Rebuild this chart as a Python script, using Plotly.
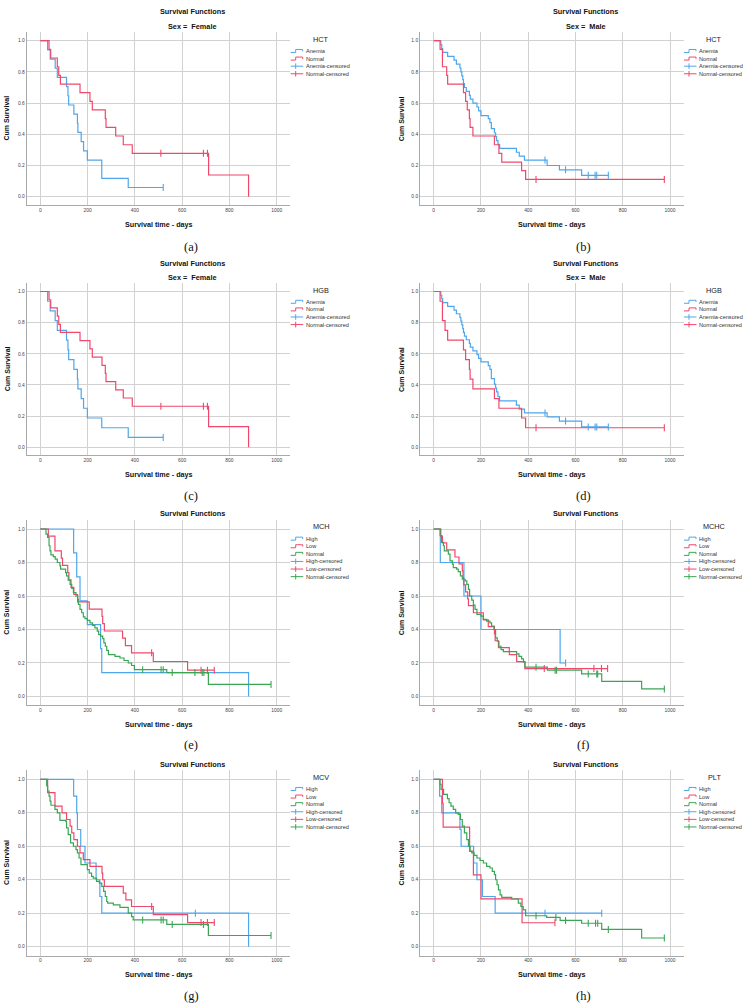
import plotly.graph_objects as go

W, H = 750, 1007
BLUE = "#4EA7EC"
RED = "#F0486C"
GREEN = "#3AA655"
FONT = "Liberation Sans"

x_ticks = [0, 200, 400, 600, 800, 1000]
y_ticks = [0.0, 0.2, 0.4, 0.6, 0.8, 1.0]

# ---------- (a) HCT, Female ----------
A_anemia_t = [0, 31, 42, 63, 72, 111, 117, 120, 142, 157, 159, 173, 183, 199, 260, 372, 520]
A_anemia_s = [1.0, 0.941, 0.882, 0.824, 0.765, 0.706, 0.647, 0.588, 0.529, 0.471, 0.412, 0.353, 0.294, 0.235, 0.118, 0.059, 0.059]
A_anemia_ct = [520]
A_anemia_cs = [0.059]
A_normal_t = [0, 37, 44, 72, 78, 85, 168, 210, 220, 275, 278, 319, 351, 389, 712, 881]
A_normal_s = [1.0, 0.944, 0.889, 0.833, 0.778, 0.722, 0.667, 0.611, 0.556, 0.5, 0.444, 0.389, 0.333, 0.278, 0.139, 0.0]
A_normal_ct = [510, 690, 707]
A_normal_cs = [0.278, 0.278, 0.278]

# ---------- (b) HCT, Male ----------
B_anemia_t = [0, 30, 34, 38, 59, 86, 96, 111, 115, 119, 123, 126, 130, 138, 151, 155, 166, 183, 190, 200,
              231, 238, 244, 257, 262, 266, 272, 279, 350, 362, 384, 480, 532, 626, 739]
B_anemia_s = [1.0, 0.975, 0.95, 0.925, 0.9, 0.875, 0.85, 0.825, 0.8, 0.775, 0.75, 0.725, 0.7, 0.675, 0.65, 0.625, 0.6, 0.575, 0.55, 0.52,
              0.5, 0.475, 0.437, 0.41, 0.385, 0.36, 0.335, 0.31, 0.285, 0.26, 0.235, 0.2, 0.172, 0.137, 0.137]
B_anemia_ct = [471, 558, 654, 683, 690, 739]
B_anemia_cs = [0.235, 0.172, 0.137, 0.137, 0.137, 0.137]
B_normal_t = [0, 27, 37, 55, 59, 126, 135, 142, 151, 154, 166, 257, 276, 288, 372, 389, 976]
B_normal_s = [1.0, 0.944, 0.833, 0.778, 0.722, 0.667, 0.611, 0.556, 0.5, 0.444, 0.389, 0.333, 0.278, 0.222, 0.167, 0.111, 0.111]
B_normal_ct = [433, 976]
B_normal_cs = [0.111, 0.111]

# ---------- (c) HGB, Female ----------
C_anemia_t = [0, 31, 42, 63, 72, 111, 117, 120, 142, 157, 159, 173, 183, 199, 260, 372, 520]
C_anemia_s = [1.0, 0.9375, 0.875, 0.8125, 0.75, 0.6875, 0.625, 0.5625, 0.5, 0.4375, 0.375, 0.3125, 0.25, 0.1875, 0.125, 0.0625, 0.0625]
C_anemia_ct = [520]
C_anemia_cs = [0.0625]
C_normal_t = [0, 37, 44, 72, 78, 85, 168, 210, 220, 261, 275, 278, 319, 351, 389, 712, 881]
C_normal_s = [1.0, 0.947, 0.895, 0.842, 0.789, 0.737, 0.684, 0.632, 0.579, 0.526, 0.474, 0.421, 0.368, 0.316, 0.263, 0.132, 0.0]
C_normal_ct = [510, 690, 707]
C_normal_cs = [0.263, 0.263, 0.263]

# ---------- (d) HGB, Male ----------
D_anemia_t = [0, 30, 34, 38, 59, 86, 96, 111, 115, 119, 123, 126, 130, 138, 151, 155, 166, 183, 190, 200,
              231, 238, 244, 257, 262, 266, 272, 279, 350, 362, 384, 480, 532, 626, 739]
D_anemia_s = [1.0, 0.976, 0.952, 0.929, 0.905, 0.881, 0.857, 0.833, 0.81, 0.786, 0.762, 0.738, 0.714, 0.69, 0.667, 0.643, 0.619, 0.595, 0.571, 0.548,
              0.524, 0.5, 0.44, 0.405, 0.38, 0.355, 0.325, 0.298, 0.27, 0.245, 0.22, 0.195, 0.168, 0.13, 0.13]
D_anemia_ct = [471, 558, 654, 683, 690, 739]
D_anemia_cs = [0.22, 0.168, 0.13, 0.13, 0.13, 0.13]
D_normal_t = [0, 27, 37, 48, 59, 126, 135, 151, 154, 166, 257, 276, 372, 389, 976]
D_normal_s = [1.0, 0.9375, 0.8125, 0.75, 0.6875, 0.625, 0.5625, 0.5, 0.4375, 0.375, 0.3125, 0.25, 0.1875, 0.125, 0.125]
D_normal_ct = [433, 976]
D_normal_cs = [0.125, 0.125]

# ---------- (e) MCH ----------
E_high_t = [0, 141, 154, 168, 199, 255, 260, 881]
E_high_s = [1.0, 0.857, 0.714, 0.571, 0.429, 0.286, 0.143, 0.0]
E_high_ct = []
E_high_cs = []
E_low_t = [0, 34, 62, 89, 94, 116, 121, 130, 142, 158, 207, 261, 264, 271, 348, 360, 386, 478, 623, 736]
E_low_s = [1.0, 0.957, 0.87, 0.826, 0.783, 0.739, 0.696, 0.652, 0.609, 0.565, 0.522, 0.478, 0.435, 0.391, 0.348, 0.304, 0.261, 0.209, 0.157, 0.157]
E_low_ct = [471, 680, 707, 736]
E_low_cs = [0.261, 0.157, 0.157, 0.157]
E_normal_t = [0, 24, 31, 37, 41, 45, 55, 63, 72, 83, 86, 107, 111, 118, 126, 133, 140, 151, 158, 161,
              168, 175, 182, 189, 199, 210, 221, 231, 241, 247, 255, 264, 269, 275, 281, 288, 316, 337, 354, 372,
              386, 398, 535, 711, 976]
E_normal_s = [1.0, 0.97, 0.95, 0.9, 0.87, 0.845, 0.835, 0.82, 0.8, 0.78, 0.76, 0.74, 0.72, 0.695, 0.67, 0.645, 0.62, 0.6, 0.58, 0.55,
              0.52, 0.5, 0.475, 0.465, 0.455, 0.44, 0.425, 0.41, 0.39, 0.37, 0.36, 0.345, 0.32, 0.3, 0.275, 0.25, 0.24, 0.23, 0.215, 0.2,
              0.185, 0.16, 0.143, 0.072, 0.072]
E_normal_ct = [433, 511, 520, 558, 654, 685, 692, 976]
E_normal_cs = [0.16, 0.16, 0.16, 0.143, 0.143, 0.143, 0.143, 0.072]

# ---------- (f) MCHC ----------
F_high_t = [0, 28, 128, 200, 535, 558]
F_high_s = [1.0, 0.8, 0.6, 0.4, 0.2, 0.2]
F_high_ct = [558]
F_high_cs = [0.2]
F_low_t = [0, 30, 37, 55, 90, 107, 121, 124, 127, 135, 144, 147, 168, 210, 231, 257, 260, 274, 320, 351, 386, 736]
F_low_s = [1.0, 0.958, 0.917, 0.875, 0.833, 0.792, 0.75, 0.708, 0.667, 0.625, 0.583, 0.542, 0.5, 0.458, 0.417, 0.375, 0.333, 0.292, 0.25, 0.208, 0.167, 0.167]
F_low_ct = [468, 678, 710, 736]
F_low_cs = [0.167, 0.167, 0.167, 0.167]
F_normal_t = [0, 27, 33, 41, 45, 62, 69, 79, 83, 97, 104, 113, 121, 133, 140, 147, 152, 161, 168, 175,
              183, 200, 210, 224, 238, 245, 255, 262, 269, 276, 285, 295, 351, 361, 372, 380, 386, 481, 626, 711,
              880, 976]
F_normal_s = [1.0, 0.96, 0.92, 0.9, 0.87, 0.85, 0.81, 0.79, 0.77, 0.76, 0.745, 0.72, 0.7, 0.69, 0.67, 0.64, 0.6, 0.575, 0.545, 0.52,
              0.49, 0.48, 0.46, 0.45, 0.44, 0.42, 0.4, 0.35, 0.33, 0.3, 0.28, 0.268, 0.255, 0.24, 0.225, 0.205, 0.175, 0.157, 0.135, 0.09,
              0.045, 0.045]
F_normal_ct = [433, 514, 520, 654, 690, 694, 976]
F_normal_cs = [0.175, 0.157, 0.157, 0.135, 0.135, 0.135, 0.045]

# ---------- (g) MCV ----------
G_high_t = [0, 141, 154, 157, 171, 189, 236, 252, 260, 881]
G_high_s = [1.0, 0.9, 0.8, 0.7, 0.6, 0.5, 0.4, 0.3, 0.2, 0.0]
G_high_ct = [656]
G_high_cs = [0.2]
G_low_t = [0, 31, 62, 92, 111, 126, 133, 142, 157, 168, 182, 210, 261, 264, 271, 351, 362, 386, 478, 623, 736]
G_low_s = [1.0, 0.92, 0.84, 0.8, 0.76, 0.72, 0.68, 0.64, 0.6, 0.56, 0.52, 0.48, 0.44, 0.4, 0.36, 0.32, 0.28, 0.24, 0.192, 0.144, 0.144]
G_low_ct = [471, 680, 707, 736]
G_low_cs = [0.24, 0.144, 0.144, 0.144]
G_normal_t = [0, 27, 31, 37, 41, 45, 62, 72, 83, 107, 111, 118, 128, 140, 151, 157, 164, 172, 199, 207,
              217, 224, 238, 250, 260, 268, 275, 281, 285, 309, 337, 372, 386, 393, 535, 711, 976]
G_normal_s = [1.0, 0.96, 0.93, 0.9, 0.87, 0.845, 0.82, 0.8, 0.755, 0.75, 0.71, 0.67, 0.62, 0.6, 0.58, 0.56, 0.53, 0.49, 0.46, 0.44,
              0.42, 0.41, 0.39, 0.38, 0.36, 0.33, 0.3, 0.27, 0.26, 0.25, 0.235, 0.2, 0.18, 0.16, 0.133, 0.067, 0.067]
G_normal_ct = [433, 511, 520, 558, 690, 976]
G_normal_cs = [0.16, 0.16, 0.16, 0.133, 0.133, 0.067]

# ---------- (h) PLT ----------
H_high_t = [0, 25, 34, 111, 116, 169, 183, 206, 260, 711]
H_high_s = [1.0, 0.9, 0.8, 0.7, 0.6, 0.5, 0.4, 0.3, 0.2, 0.2]
H_high_ct = [471, 711]
H_high_cs = [0.2, 0.2]
H_low_t = [0, 37, 40, 152, 168, 200, 374, 513]
H_low_s = [1.0, 0.857, 0.714, 0.571, 0.429, 0.286, 0.143, 0.143]
H_low_ct = [513]
H_low_cs = [0.143]
H_normal_t = [0, 27, 31, 42, 58, 65, 73, 83, 93, 104, 113, 121, 130, 140, 147, 154, 161, 171, 183, 196,
              210, 224, 238, 248, 257, 262, 268, 274, 281, 288, 330, 358, 369, 379, 389, 478, 535, 626, 711, 880,
              976]
H_normal_s = [1.0, 0.97, 0.94, 0.91, 0.885, 0.86, 0.84, 0.82, 0.8, 0.79, 0.76, 0.72, 0.68, 0.64, 0.6, 0.57, 0.56, 0.545, 0.53, 0.515,
              0.5, 0.48, 0.47, 0.45, 0.43, 0.4, 0.37, 0.34, 0.31, 0.295, 0.285, 0.26, 0.24, 0.22, 0.185, 0.175, 0.157, 0.14, 0.103, 0.052,
              0.052]
H_normal_ct = [433, 517, 558, 654, 685, 694, 739, 976]
H_normal_cs = [0.185, 0.175, 0.157, 0.14, 0.14, 0.14, 0.103, 0.052]

panels = [
    dict(cap="(a)", col=0, row=0, sub="Sex =\u00a0 Female", leg="HCT",
         series=[("Anemia", BLUE, A_anemia_t, A_anemia_s, A_anemia_ct, A_anemia_cs),
                 ("Normal", RED, A_normal_t, A_normal_s, A_normal_ct, A_normal_cs)]),
    dict(cap="(b)", col=1, row=0, sub="Sex =\u00a0 Male", leg="HCT",
         series=[("Anemia", BLUE, B_anemia_t, B_anemia_s, B_anemia_ct, B_anemia_cs),
                 ("Normal", RED, B_normal_t, B_normal_s, B_normal_ct, B_normal_cs)]),
    dict(cap="(c)", col=0, row=1, sub="Sex =\u00a0 Female", leg="HGB",
         series=[("Anemia", BLUE, C_anemia_t, C_anemia_s, C_anemia_ct, C_anemia_cs),
                 ("Normal", RED, C_normal_t, C_normal_s, C_normal_ct, C_normal_cs)]),
    dict(cap="(d)", col=1, row=1, sub="Sex =\u00a0 Male", leg="HGB",
         series=[("Anemia", BLUE, D_anemia_t, D_anemia_s, D_anemia_ct, D_anemia_cs),
                 ("Normal", RED, D_normal_t, D_normal_s, D_normal_ct, D_normal_cs)]),
    dict(cap="(e)", col=0, row=2, sub=None, leg="MCH",
         series=[("High", BLUE, E_high_t, E_high_s, E_high_ct, E_high_cs),
                 ("Low", RED, E_low_t, E_low_s, E_low_ct, E_low_cs),
                 ("Normal", GREEN, E_normal_t, E_normal_s, E_normal_ct, E_normal_cs)]),
    dict(cap="(f)", col=1, row=2, sub=None, leg="MCHC",
         series=[("High", BLUE, F_high_t, F_high_s, F_high_ct, F_high_cs),
                 ("Low", RED, F_low_t, F_low_s, F_low_ct, F_low_cs),
                 ("Normal", GREEN, F_normal_t, F_normal_s, F_normal_ct, F_normal_cs)]),
    dict(cap="(g)", col=0, row=3, sub=None, leg="MCV",
         series=[("High", BLUE, G_high_t, G_high_s, G_high_ct, G_high_cs),
                 ("Low", RED, G_low_t, G_low_s, G_low_ct, G_low_cs),
                 ("Normal", GREEN, G_normal_t, G_normal_s, G_normal_ct, G_normal_cs)]),
    dict(cap="(h)", col=1, row=3, sub=None, leg="PLT",
         series=[("High", BLUE, H_high_t, H_high_s, H_high_ct, H_high_cs),
                 ("Low", RED, H_low_t, H_low_s, H_low_ct, H_low_cs),
                 ("Normal", GREEN, H_normal_t, H_normal_s, H_normal_ct, H_normal_cs)]),
]

# ---------- layout geometry (pixels) ----------
XR = [-57.5, 1058]
YR = [-0.053, 1.054]
col_zero = [40.3, 433.7]          # pixel of day 0
col_scale = [0.2364, 0.2363]      # px per day
row_px = [(40.7, 196.7), (291.5, 447.2), (529.0, 696.5), (779.3, 946.7)]   # (y=1.0, y=0.0)
title_y = [(11.3, 27.0), (264.0, 277.5), (513.7, None), (764.0, None)]
xtitle_y = [224.0, 474.7, 724.0, 974.0]
cap_y = [247.0, 496.5, 745.0, 996.0]
title_x = [192.0, 585.5]
cap_x = [191.0, 583.0]
ytitle_x = [7.0, 401.7]
leg_x0 = [290.7, 684.0]


def fx(px):
    return px / W


def fy(py):
    return 1 - py / H


fig = go.Figure()
annotations = []
shapes = []

for i, p in enumerate(panels):
    n = i + 1
    c, r = p["col"], p["row"]
    x0px = col_zero[c] + XR[0] * col_scale[c]
    x1px = col_zero[c] + XR[1] * col_scale[c]
    p1, p0 = row_px[r]
    span = p0 - p1
    top = p1 - (YR[1] - 1) * span
    bot = p0 - YR[0] * span
    xa = "xaxis" if n == 1 else f"xaxis{n}"
    ya = "yaxis" if n == 1 else f"yaxis{n}"
    xref = "x" if n == 1 else f"x{n}"
    yref = "y" if n == 1 else f"y{n}"
    axis_common = dict(showgrid=True, gridcolor="#d2d2d2", gridwidth=1, zeroline=False,
                       showline=True, linecolor="#a9a9a9", linewidth=1, ticks="",
                       tickfont=dict(family=FONT, size=4.9, color="#444"), fixedrange=True)
    fig.layout[xa] = dict(domain=[fx(x0px), fx(x1px)], range=XR, anchor=yref,
                          tickvals=x_ticks, ticktext=[str(v) for v in x_ticks], **axis_common)
    fig.layout[ya] = dict(domain=[fy(bot), fy(top)], range=YR, anchor=xref,
                          tickvals=y_ticks, ticktext=[f"{v:.1f}" for v in y_ticks], **axis_common)

    for (name, color, t, s, ct, cs) in p["series"]:
        fig.add_trace(go.Scatter(x=t, y=s, mode="lines", line=dict(shape="hv", color=color, width=1.2),
                                 xaxis=xref, yaxis=yref, showlegend=False, hoverinfo="skip"))
    for (name, color, t, s, ct, cs) in p["series"]:
        if ct:
            fig.add_trace(go.Scatter(x=ct, y=cs, mode="markers",
                                     marker=dict(symbol="line-ns", size=5, line=dict(color=color, width=1.1)),
                                     xaxis=xref, yaxis=yref, showlegend=False, hoverinfo="skip"))

    # titles
    ty1, ty2 = title_y[r]
    annotations.append(dict(text="<b>Survival Functions</b>", x=fx(title_x[c]), y=fy(ty1), xref="paper", yref="paper",
                            showarrow=False, xanchor="center", yanchor="middle",
                            font=dict(family=FONT, size=7.3, color="#111")))
    if p["sub"]:
        annotations.append(dict(text="<b>" + p["sub"] + "</b>", x=fx(title_x[c]), y=fy(ty2), xref="paper", yref="paper",
                                showarrow=False, xanchor="center", yanchor="middle",
                                font=dict(family=FONT, size=7.3, color="#111")))
    annotations.append(dict(text="<b>Survival time - days</b>", x=fx((x0px + x1px) / 2), y=fy(xtitle_y[r]),
                            xref="paper", yref="paper", showarrow=False, xanchor="center", yanchor="middle",
                            font=dict(family=FONT, size=7.2, color="#111")))
    annotations.append(dict(text="<b>Cum Survival</b>", x=fx(ytitle_x[c]), y=fy((top + bot) / 2), textangle=-90,
                            xref="paper", yref="paper", showarrow=False, xanchor="center", yanchor="middle",
                            font=dict(family=FONT, size=7.0, color="#111")))
    annotations.append(dict(text=p["cap"], x=fx(cap_x[c]), y=fy(cap_y[r]), xref="paper", yref="paper",
                            showarrow=False, xanchor="center", yanchor="middle",
                            font=dict(family="Liberation Serif", size=12.5, color="#111")))

    # legend (drawn manually, SPSS style)
    lx = leg_x0[c]
    ly_title = top + 7.0
    annotations.append(dict(text=p["leg"], x=fx(lx + 30.3), y=fy(ly_title), xref="paper", yref="paper",
                            showarrow=False, xanchor="center", yanchor="middle",
                            font=dict(family=FONT, size=7.3, color="#222")))
    entries = [(nm, col, False) for (nm, col, *_rest) in p["series"]] + \
              [(nm + "-censored", col, True) for (nm, col, *_rest) in p["series"]]
    for k, (label, col, cens) in enumerate(entries):
        yy = ly_title + 11.7 + k * 7.6
        if cens:
            shapes.append(dict(type="line", xref="paper", yref="paper", x0=fx(lx), x1=fx(lx + 12.5),
                               y0=fy(yy), y1=fy(yy), line=dict(color=col, width=1)))
            shapes.append(dict(type="line", xref="paper", yref="paper", x0=fx(lx + 5), x1=fx(lx + 5),
                               y0=fy(yy - 2.8), y1=fy(yy + 2.8), line=dict(color=col, width=1)))
        else:
            path = (f"M {fx(lx)},{fy(yy + 1.5)} L {fx(lx + 5)},{fy(yy + 1.5)} L {fx(lx + 5)},{fy(yy - 1.5)} "
                    f"L {fx(lx + 12)},{fy(yy - 1.5)} L {fx(lx + 12)},{fy(yy + 0.3)}")
            shapes.append(dict(type="path", xref="paper", yref="paper", path=path, line=dict(color=col, width=1)))
        annotations.append(dict(text=label, x=fx(lx + 13.3), y=fy(yy), xref="paper", yref="paper",
                                showarrow=False, xanchor="left", yanchor="middle",
                                font=dict(family=FONT, size=5.6, color="#333")))

fig.update_layout(width=W, height=H, margin=dict(l=0, r=0, t=0, b=0),
                  paper_bgcolor="white", plot_bgcolor="white", showlegend=False,
                  annotations=annotations, shapes=shapes)

fig.write_html("out.html")
